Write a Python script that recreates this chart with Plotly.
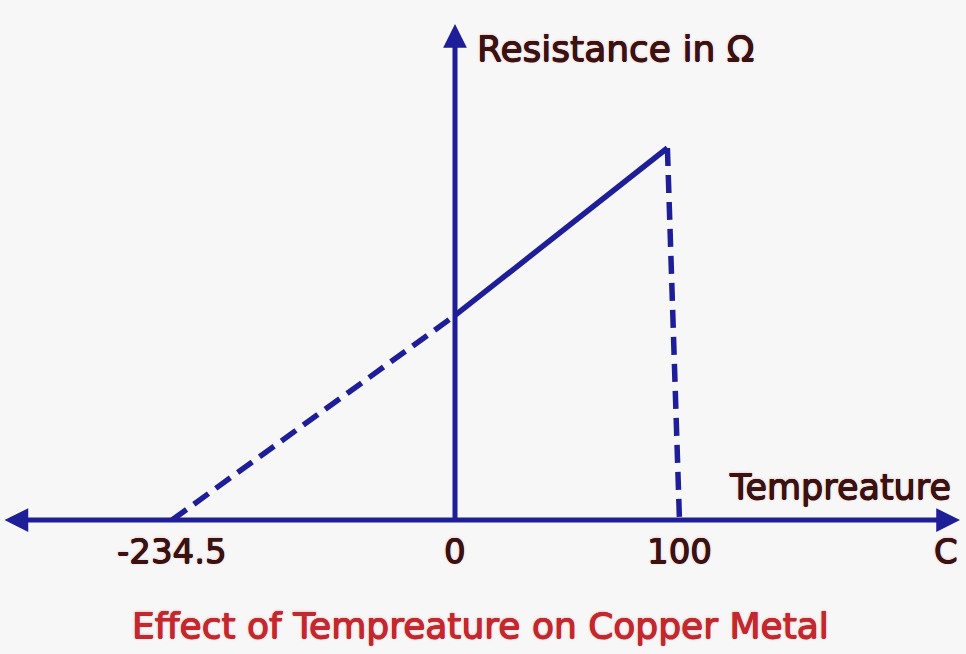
import plotly.graph_objects as go

# ---- data (schematic, not drawn to scale) ----
temp_labels = ["-234.5", "0", "100"]          # temperature tick labels (°C)
tick_pos = [-234.5, 0, 186]                   # where each temperature sits on the drawn axis
resistance = [0, 5.5, 10]                     # resistance (arb. units) at -234.5, 0, 100
peak_pos = 176                                # hand-drawn lean of the 100 °C drop line
unit_label = "C"

LINE = "#1e1e98"
TEXT = "#3a1212"
RED = "#c3282e"
BG = "#f7f7f7"
W, H = 966, 654

# pixel mapping of the sketch (plot area = whole figure)
kx = 283 / 234.5
ky = 37.2
x_range = [-455 / kx, (W - 455) / kx]
y_range = [(520 - H) / ky, 520 / ky]

fig = go.Figure()

DASH = "18px,9px"
# dashed extrapolation to absolute zero resistance
fig.add_trace(go.Scatter(x=[tick_pos[0], tick_pos[1]], y=[resistance[0], resistance[1]],
                         mode="lines", line=dict(color=LINE, width=5.5, dash=DASH),
                         hoverinfo="skip"))
# measured solid line 0 -> 100
fig.add_trace(go.Scatter(x=[tick_pos[1], peak_pos], y=[resistance[1], resistance[2]],
                         mode="lines", line=dict(color=LINE, width=5.5),
                         hoverinfo="skip"))
# dashed drop at 100
fig.add_trace(go.Scatter(x=[peak_pos, tick_pos[2]], y=[resistance[2], resistance[0]],
                         mode="lines", line=dict(color=LINE, width=5.5, dash=DASH),
                         hoverinfo="skip"))

ann = []
# x axis (double-headed arrow)
x_left = (3 - 455) / kx
x_right = (960 - 455) / kx
ann.append(dict(x=x_right, y=0, ax=x_left, ay=0, xref="x", yref="y", axref="x", ayref="y",
                text="", showarrow=True, arrowhead=2, arrowside="end+start", arrowsize=0.95,
                arrowwidth=5, arrowcolor=LINE, standoff=0, startstandoff=0))
# y axis arrow
y_top = (520 - 24) / ky
ann.append(dict(x=0, y=y_top, ax=0, ay=0, xref="x", yref="y", axref="x", ayref="y",
                text="", showarrow=True, arrowhead=2, arrowsize=0.95,
                arrowwidth=5, arrowcolor=LINE, standoff=0, startstandoff=0))

font_family = "DejaVu Sans, Arial, sans-serif"


def thick(c, glow):
    d = "0.5px"
    return (f"{d} 0 0 {c}, -{d} 0 0 {c}, 0 {d} 0 {c}, 0 -{d} 0 {c}, "
            f"0 0 3px {glow}")


TXT_SH = thick(TEXT, "rgba(200,60,60,0.45)")
RED_SH = thick(RED, "rgba(230,80,80,0.5)")

# tick labels
for lab, pos in zip(temp_labels, tick_pos):
    ann.append(dict(x=pos, y=0, xref="x", yref="y", text=lab, showarrow=False,
                    xanchor="center", yanchor="middle", yshift=-31,
                    font=dict(family=font_family, size=34, color=TEXT, shadow=TXT_SH)))
ann.append(dict(x=946 / W, y=1 - 551 / H, xref="paper", yref="paper", text=unit_label,
                showarrow=False, xanchor="center", yanchor="middle",
                font=dict(family=font_family, size=34, color=TEXT, shadow=TXT_SH)))
# axis titles
ann.append(dict(x=840 / W, y=1 - 487 / H, xref="paper", yref="paper", text="Tempreature",
                showarrow=False, xanchor="center", yanchor="middle",
                font=dict(family=font_family, size=35, color=TEXT, shadow=TXT_SH)))
ann.append(dict(x=475 / W, y=1 - 49 / H, xref="paper", yref="paper", text="Resistance in Ω",
                showarrow=False, xanchor="left", yanchor="middle",
                font=dict(family=font_family, size=36, color=TEXT, shadow=TXT_SH)))
# caption
ann.append(dict(x=480 / W, y=1 - 625 / H, xref="paper", yref="paper",
                text="Effect of Tempreature on Copper Metal",
                showarrow=False, xanchor="center", yanchor="middle",
                font=dict(family=font_family, size=36, color=RED, shadow=RED_SH)))

fig.update_layout(
    width=W, height=H,
    margin=dict(l=0, r=0, t=0, b=0),
    paper_bgcolor=BG, plot_bgcolor=BG,
    showlegend=False,
    xaxis=dict(range=x_range, visible=False, fixedrange=True),
    yaxis=dict(range=y_range, visible=False, fixedrange=True),
    annotations=ann,
)

fig.write_html(
    "out.html",
    config={"displayModeBar": False},
    post_script="document.body.style.margin='0';document.body.style.background='#f7f7f7';"
                "document.body.style.overflow='hidden';",
)
